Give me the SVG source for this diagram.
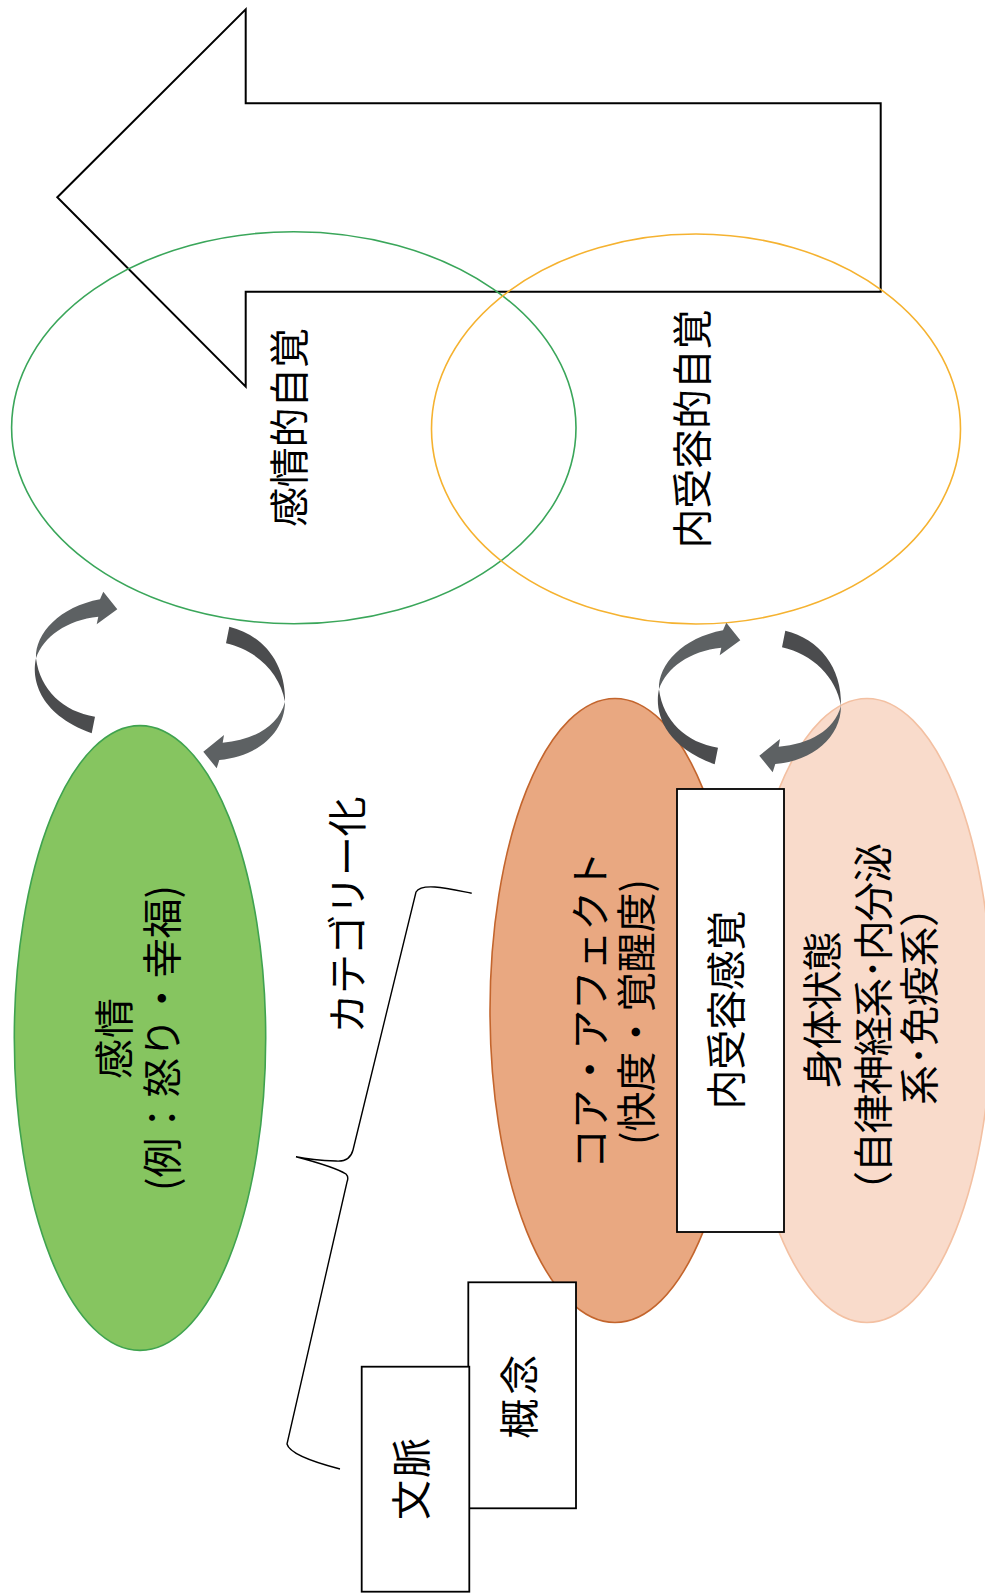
<svg xmlns="http://www.w3.org/2000/svg" width="985" height="1595" viewBox="0 0 985 1595">
<defs>
<style>
.lbl{font-family:"Noto Sans CJK JP","Noto Sans CJK SC",sans-serif;font-size:40px;fill:#000;text-anchor:middle;dominant-baseline:central;}
.box{fill:#fff;stroke:#000;stroke-width:1.8;}
.dark{fill:#4b4c4e;}
.light{fill:#5d6163;}
</style>
<g id="cyc">
<path class="light" d="M36 658.3 C35 633.3 60 606.7 100 599.3 L103.3 591.7 L117.3 609.3 L96.7 624.3 L98.3 616.7 C66.7 620 43.3 636.7 36 658.3 Z"/>
<path class="dark" d="M36 658.3 C31.7 676.7 36.7 713.3 91.7 733.3 L95 716.7 C63.3 711.7 40 690 36 658.3 Z"/>
</g>
<g id="cyc2">
<path class="dark" d="M229.3 626.7 C263.3 635 286 663.3 285 701.7 C280 673.3 256.7 650 226 643.3 Z"/>
<path class="light" d="M285 701.7 C285 733.3 256.7 756.7 219.3 760 L216.7 768.3 L203.3 751.7 L224 735 L222.7 742.7 C253.3 740 278.3 726.7 285 701.7 Z"/>
</g>
</defs>
<rect width="985" height="1595" fill="#fff"/>

<g id="awareness-arrow">
<polygon points="57.3,197.3 245.7,9.3 245.7,103.3 880.7,103.3 880.7,291.7 245.7,291.7 245.7,386.7" fill="none" stroke="#000" stroke-width="2"/>
</g>

<g id="emotional-awareness">
<ellipse cx="293.8" cy="427.7" rx="282.2" ry="196" fill="none" stroke="#3aa65a" stroke-width="1.6"/>
<text class="lbl" transform="translate(287 427.5) rotate(-90)" textLength="199" lengthAdjust="spacing">感情的自覚</text>
</g>

<g id="interoceptive-awareness">
<ellipse cx="696" cy="429" rx="264.5" ry="195" fill="none" stroke="#f5b230" stroke-width="1.6"/>
<text class="lbl" transform="translate(690 429) rotate(-90)" textLength="239" lengthAdjust="spacing">内受容的自覚</text>
</g>

<g id="emotion">
<ellipse cx="140" cy="1038" rx="125.7" ry="312.4" fill="#86c560" stroke="#3fa34f" stroke-width="1.6"/>
<text class="lbl" transform="translate(112 1038.5) rotate(-90)" textLength="81" lengthAdjust="spacing">感情</text>
<text class="lbl" transform="translate(160 1038) rotate(-90)" textLength="306" lengthAdjust="spacing">(例：怒り・幸福)</text>
</g>

<g id="core-affect">
<ellipse cx="615" cy="1010.5" rx="125" ry="312" fill="#e9a881" stroke="#c3652d" stroke-width="1.6"/>
<text class="lbl" transform="translate(588 1010) rotate(-90)" textLength="318" lengthAdjust="spacing">コア・アフェクト</text>
<text class="lbl" transform="translate(634 1012) rotate(-90)" textLength="266" lengthAdjust="spacing">(快度・覚醒度)</text>
</g>

<g id="body-state">
<ellipse cx="867" cy="1010.5" rx="125" ry="312" fill="#f9dbcb" stroke="#f3c0a2" stroke-width="1.6"/>
<text class="lbl" transform="translate(820 1010) rotate(-90)" textLength="157" lengthAdjust="spacing">身体状態</text>
<text class="lbl" transform="translate(871 1027) rotate(-90)" textLength="368" lengthAdjust="spacing">（自律神経系･内分泌</text>
<text class="lbl" transform="translate(917 996) rotate(-90)" textLength="218" lengthAdjust="spacing">系･免疫系）</text>
</g>

<g id="interoception">
<rect class="box" x="677" y="789" width="107" height="443"/>
<text class="lbl" transform="translate(724 1010) rotate(-90)" textLength="199" lengthAdjust="spacing">内受容感覚</text>
</g>

<g id="concept">
<rect class="box" x="468.3" y="1282.3" width="107.7" height="226"/>
<text class="lbl" transform="translate(517 1396.7) rotate(-90)" textLength="84" lengthAdjust="spacing">概念</text>
</g>

<g id="context">
<rect class="box" x="361.7" y="1366.7" width="107.6" height="225"/>
<text class="lbl" transform="translate(409 1479) rotate(-90)" textLength="82" lengthAdjust="spacing">文脈</text>
</g>

<g id="categorization">
<path d="M471.7 893.3 C450 889 422 882 416 892 L353 1150 Q350 1162 336 1161 Q312 1160 296 1156.7 Q335 1167 346 1174 Q349 1177 347 1182 L287 1444 Q290 1456 340 1469" fill="none" stroke="#000" stroke-width="1.4"/>
<text class="lbl" transform="translate(345 915) rotate(-90)" textLength="237" lengthAdjust="spacing">カテゴリー化</text>
</g>

<g id="connectors">
<use href="#cyc"/>
<use href="#cyc2"/>
<use href="#cyc" transform="translate(623 31)"/>
<use href="#cyc2" transform="translate(556 4)"/>
</g>
</svg>
